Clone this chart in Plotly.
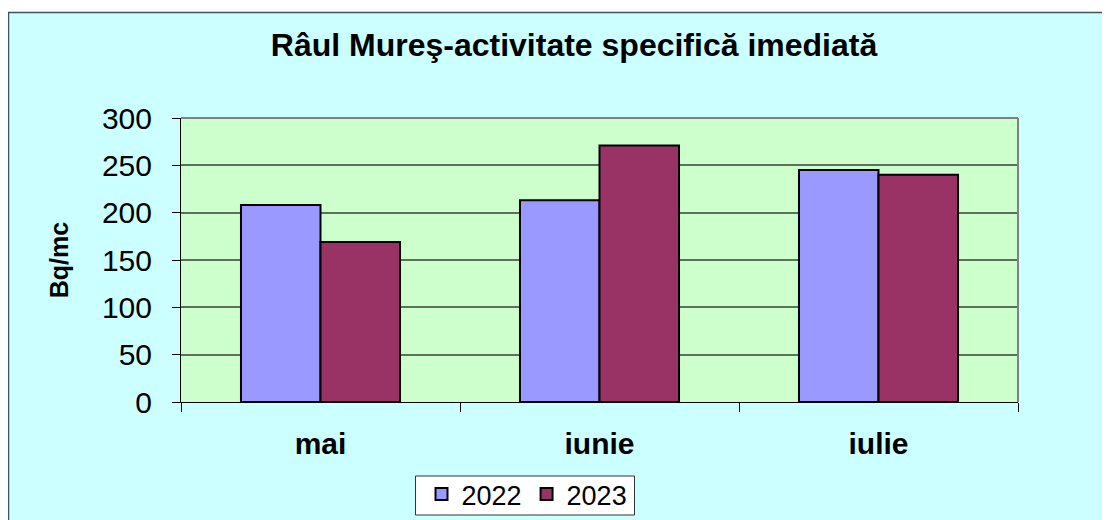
import plotly.graph_objects as go

categories = ["mai", "iunie", "iulie"]
series_names = ["2022", "2023"]
values_2022 = [208, 213, 245]
values_2023 = [169, 271, 240]
y_ticks = [0, 50, 100, 150, 200, 250, 300]
title_text = "Râul Mureş-activitate specifică imediată"
y_title = "Bq/mc"

# figure is placed by the page with an 8px body margin
W, H = 1102, 512
L, R, T, B = 173, 1010, 110, 394


def px_x(x):
    return (x - L) / (R - L)


def px_y(y):
    return (B - y) / (B - T)


fig = go.Figure()
fig.add_trace(go.Bar(x=categories, y=values_2022, name=series_names[0],
                     marker=dict(color="#9999FF", line=dict(color="black", width=2))))
fig.add_trace(go.Bar(x=categories, y=values_2023, name=series_names[1],
                     marker=dict(color="#993366", line=dict(color="black", width=2))))

shapes = [
    dict(type="rect", xref="paper", yref="paper", x0=px_x(0), x1=px_x(W), y0=px_y(4), y1=px_y(0),
         fillcolor="white", line=dict(width=0), layer="above"),
    dict(type="line", xref="paper", yref="paper", x0=px_x(0), x1=px_x(W), y0=px_y(4.5), y1=px_y(4.5),
         line=dict(color="#3F5555", width=1.5)),
    dict(type="line", xref="paper", yref="paper", x0=px_x(0.5), x1=px_x(0.5), y0=px_y(H), y1=px_y(4),
         line=dict(color="#3F5555", width=1.5)),
    dict(type="line", xref="paper", yref="paper", x0=0, x1=1, y0=1, y1=1,
         line=dict(color="#808080", width=2)),
    dict(type="line", xref="paper", yref="paper", x0=1, x1=1, y0=0, y1=1,
         line=dict(color="#808080", width=2)),
    # legend box
    dict(type="rect", xref="paper", yref="paper", x0=px_x(407.5), x1=px_x(626.5),
         y0=px_y(507), y1=px_y(468), fillcolor="white",
         line=dict(color="#333333", width=1), layer="above"),
]

fig.update_layout(
    width=W, height=H,
    margin=dict(l=L, r=W - R, t=T, b=H - B, pad=0, autoexpand=False),
    paper_bgcolor="#CCFFFF",
    plot_bgcolor="#CCFFCC",
    font=dict(family="Arial, Liberation Sans, sans-serif", color="black"),
    title=dict(text="<b>" + title_text + "</b>", x=566 / W, xanchor="center",
               y=1 - 37 / H, yanchor="middle", xref="container", yref="container",
               font=dict(size=32, color="black")),
    bargap=0.43, bargroupgap=0,
    barmode="group",
    showlegend=True,
    legend=dict(orientation="h", x=px_x(519), xanchor="center", y=px_y(462), yanchor="top",
                bgcolor="rgba(0,0,0,0)", borderwidth=0,
                font=dict(size=27, color="black"), itemwidth=30, tracegroupgap=0),
    shapes=shapes,
)

fig.update_xaxes(
    showgrid=False, showline=True, linecolor="black", linewidth=1,
    ticks="outside", tickson="boundaries", ticklen=9, tickcolor="black",
    tickfont=dict(size=30, color="black"),
    tickvals=categories, ticktext=["<b>" + c + "</b>" for c in categories],
    ticklabelstandoff=15, automargin=False,
)
fig.update_yaxes(
    range=[0, 300], tickvals=y_ticks,
    showgrid=True, gridcolor="#5F6F5F", gridwidth=1.5,
    showline=True, linecolor="black", linewidth=1,
    ticks="outside", ticklen=8, tickcolor="black",
    tickfont=dict(size=30, color="black"),
    ticklabelstandoff=14, automargin=False,
    title=dict(text="<b>" + y_title + "</b>", font=dict(size=25, color="black"), standoff=26),
    zeroline=False,
)

fig.write_html("out.html")
